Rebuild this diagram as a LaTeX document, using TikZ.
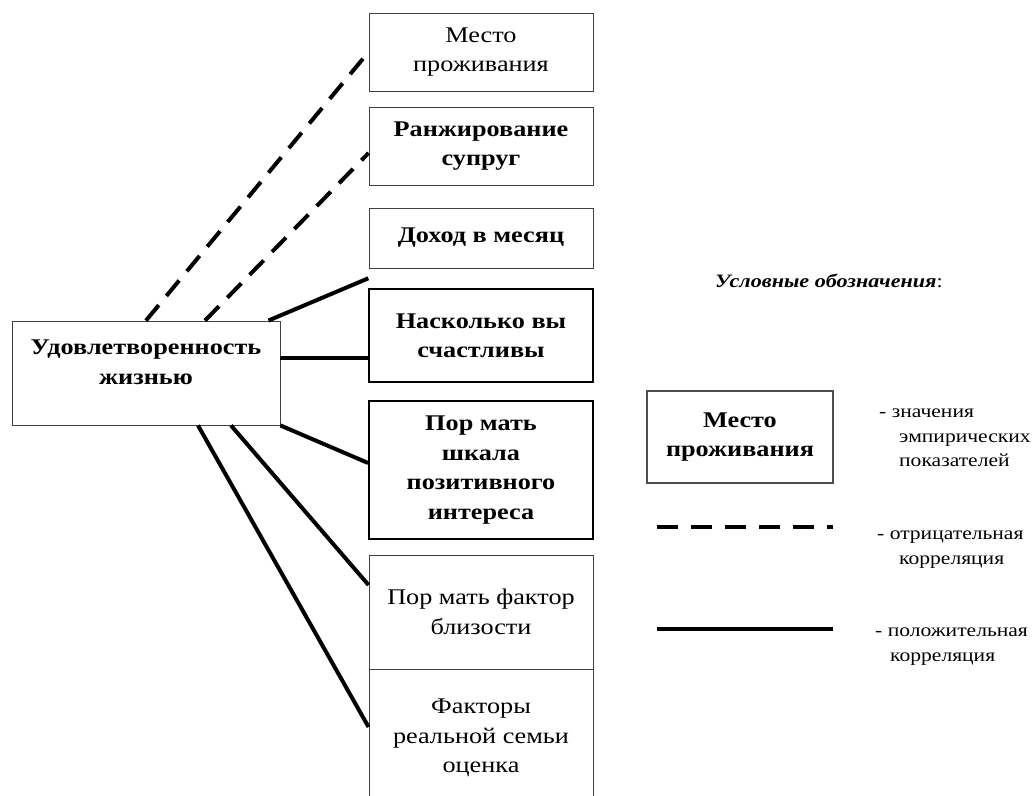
\documentclass[tikz,border=0pt]{standalone}
\usepackage{fontspec}
\setmainfont{Liberation Serif}[FakeStretch=1.17]
\usetikzlibrary{calc}

\begin{document}
\begin{tikzpicture}[x=1bp, y=-1bp,
      fact/.style={draw=black!75, line width=0.9bp, fill=white, align=center,
                   minimum width=224bp, inner sep=2bp, font=\fontsize{22.5}{29.5}\selectfont},
      factb/.style={fact, font=\fontsize{22.5}{29.5}\selectfont\bfseries},
      strong/.style={factb, draw=black, line width=1.8bp},
      negcor/.style={line width=4bp, dash pattern=on 20bp off 12bp},
      poscor/.style={line width=4bp},
      note/.style={font=\fontsize{18.5}{24.5}\selectfont, align=left, anchor=north west, inner sep=0pt}]
    \useasboundingbox (0,0) rectangle (1034,796);
    \node[fact,   minimum height=78bp]  (place)  at (481,52)    {Место\\проживания};
    \node[factb,  minimum height=78bp]  (spouse) at (481,146)   {Ранжирование\\супруг};
    \node[factb,  minimum height=60bp]  (income) at (481,238)   {Доход в месяц};
    \node[strong, minimum height=93bp]  (happy)  at (481,335.5) {Насколько вы\\счастливы};
    \node[strong, minimum height=138bp] (scale)  at (481,470)   {Пор мать\\шкала\\позитивного\\интереса};
    \node[fact,   minimum height=114bp] (close)  at (481,612)   {Пор мать фактор\\близости};
    \node[fact,   minimum height=138bp] (real)   at (481,738)   {Факторы\\реальной семьи\\оценка};
    \node[factb, minimum width=268bp, minimum height=104bp, text depth=22bp] (life) at (146,373)
      {Удовлетворенность\\жизнью};
    \coordinate (gap) at ($(income.south west)!0.5!(happy.north west)$);
    \draw[negcor] (life.north) -- (place.west);
    \draw[negcor] ([xshift=59bp]life.north) -- ([yshift=-7bp]spouse.west);
    \draw[poscor] ([xshift=-12bp]life.north east) -- (gap);
    \draw[poscor] ([yshift=15bp]life.east) coordinate (l2) -- (l2 -| happy.west);
    \draw[poscor] (life.south east) -- ([yshift=7bp]scale.west);
    \draw[poscor] ([xshift=85bp]life.south) -- ([yshift=27bp]close.west);
    \draw[poscor] ([xshift=52bp]life.south) -- ([yshift=11bp]real.west);
    \node[font=\fontsize{19}{24}\selectfont\bfseries\itshape] (ltitle) at (829,281)
      {Условные обозначения{\normalfont:}};
    \node[factb, draw=black!70, line width=1.2bp, minimum width=186bp, minimum height=92bp] (lbox) at (740,437)
      {Место\\проживания};
    \node[note] (lnote1) at (879,409) {- значения\\\hspace*{20bp}эмпирических\\\hspace*{20bp}показателей};
    \draw[negcor, dash pattern=on 21bp off 13bp] (657,527) coordinate (nega) -- (833,527) coordinate (negb);
    \node[note] (lnote2) at (877,531) {- отрицательная\\\hspace*{22bp}корреляция};
    \draw[poscor] (657,629) coordinate (posa) -- (833,629) coordinate (posb);
    \node[note] (lnote3) at (875,628) {- положительная\\\hspace*{15bp}корреляция};
  \end{tikzpicture}
\end{document}
